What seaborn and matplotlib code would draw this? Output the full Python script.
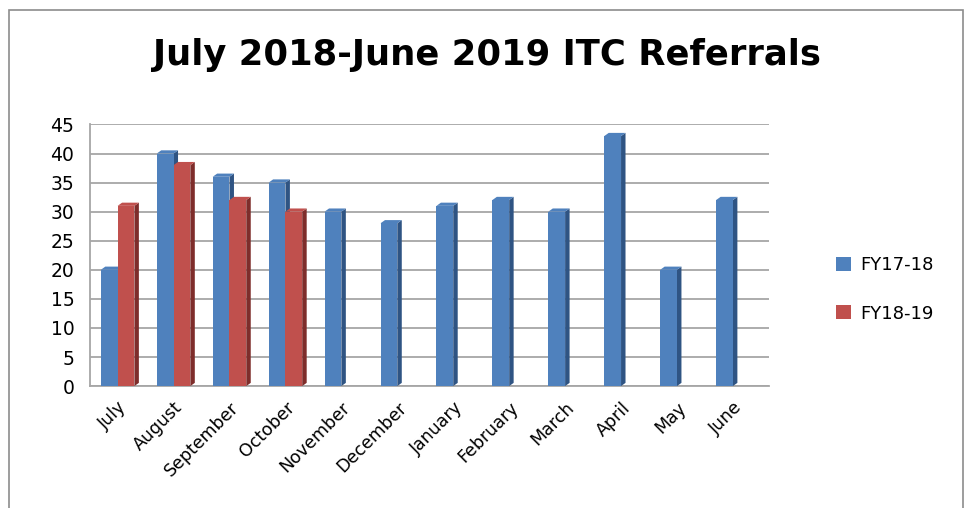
import pandas as pd
import numpy as np
import matplotlib
matplotlib.use("Agg")
import matplotlib.pyplot as plt
from matplotlib.patches import Polygon, Rectangle
from matplotlib.ticker import FixedLocator
import seaborn as sns

# ---- data ----
months = ["July", "August", "September", "October", "November", "December",
          "January", "February", "March", "April", "May", "June"]
fy1718 = [20, 40, 36, 35, 30, 28, 31, 32, 30, 43, 20, 32]
fy1819 = [31, 38, 32, 30]
series = ["FY17-18", "FY18-19"]
colors = {"FY17-18": "#4F81BD", "FY18-19": "#C0504D"}
side_colors = {"FY17-18": "#2F5483", "FY18-19": "#7E2D2B"}

df = pd.concat([
    pd.DataFrame({"month": months, "value": fy1718, "series": series[0]}),
    pd.DataFrame({"month": months[:len(fy1819)], "value": fy1819, "series": series[1]}),
])

sns.set_style("white")
plt.rcParams["font.family"] = ["DejaVu Sans"]
plt.rcParams["text.color"] = "black"
plt.rcParams["xtick.color"] = "black"
plt.rcParams["ytick.color"] = "black"

fig = plt.figure(figsize=(9.64, 5.08), dpi=100)
ax = fig.add_axes([0.093, 0.24, 0.705, 0.515])

# outer chart border
fig.patches.append(Rectangle((0.009, -0.01), 0.99, 0.99, transform=fig.transFigure,
                             fill=False, edgecolor="#8c8c8c", linewidth=1.2))

sns.barplot(data=df, x="month", y="value", hue="series", order=months,
            hue_order=series, palette=colors, width=0.6, saturation=1,
            linewidth=0, ax=ax, legend=True, zorder=3)

# fake 3D side/top faces from each bar's geometry
dx, dy = 0.08, 0.55
for cont, s in zip(ax.containers, series):
    for p in cont:
        x0, w, h = p.get_x(), p.get_width(), p.get_height()
        if not np.isfinite(h) or h == 0:
            continue
        ax.add_patch(Polygon([(x0 + w, 0), (x0 + w + dx, dy), (x0 + w + dx, h + dy), (x0 + w, h)],
                             closed=True, facecolor=side_colors[s], edgecolor="none", zorder=2.9))
        ax.add_patch(Polygon([(x0, h), (x0 + dx, h + dy), (x0 + w + dx, h + dy), (x0 + w, h)],
                             closed=True, facecolor=colors[s], edgecolor="none", zorder=2.9))

ax.set_ylim(0, 45)
ax.set_xlim(-0.5, len(months) - 0.5 + 0.15)
ax.set_yticks(range(0, 46, 5))
ax.yaxis.grid(True, color="#a6a6a6", linewidth=1.3, zorder=0)
ax.set_axisbelow(True)

for side in ["top", "right"]:
    ax.spines[side].set_visible(False)
for side in ["left", "bottom"]:
    ax.spines[side].set_color("#a6a6a6")
    ax.spines[side].set_linewidth(1.3)

ax.xaxis.set_minor_locator(FixedLocator(np.arange(-0.5, len(months), 1.0)))
ax.tick_params(axis="x", which="minor", length=6, color="#a6a6a6", width=1.3)
ax.tick_params(axis="x", which="major", length=0, pad=9)
ax.tick_params(axis="y", length=5, color="#a6a6a6", width=1.3, labelsize=13.5, pad=6)
ax.set_xticks(range(len(months)))
ax.set_xticklabels(months, rotation=45, ha="right", rotation_mode="anchor", fontsize=12.5)
ax.set_xlabel("")
ax.set_ylabel("")

fig.suptitle("July 2018-June 2019 ITC Referrals", x=0.505, y=0.925,
             fontsize=25.5, fontweight="bold")

handles, labels = ax.get_legend_handles_labels()
ax.legend(handles, labels, loc="center left", bbox_to_anchor=(1.075, 0.37),
          frameon=False, fontsize=13, labelspacing=1.7, handlelength=0.8,
          handleheight=0.8, handletextpad=0.5)

fig.savefig("out.png", dpi=100)
